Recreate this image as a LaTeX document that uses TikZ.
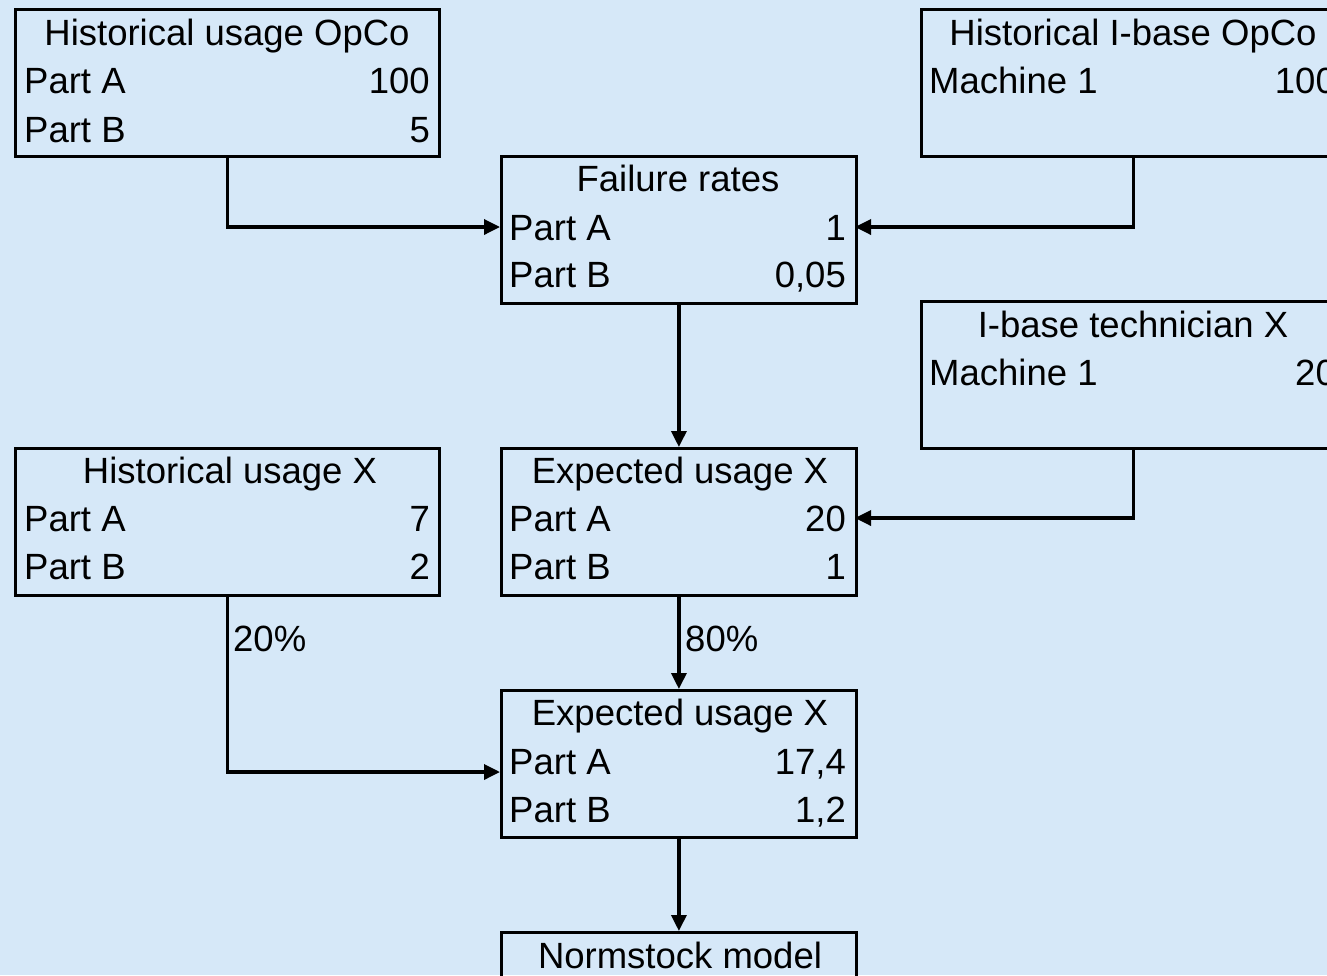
\documentclass[tikz,border=0pt]{standalone}
\usepackage{fontspec}
\setmainfont{Liberation Sans}
\usetikzlibrary{arrows.meta}
\definecolor{bg}{RGB}{214,232,248}
\begin{document}
\begin{tikzpicture}[x=1pt,y=-1pt,
  box/.style={draw=black,line width=2.8pt,anchor=north west,inner sep=0pt,minimum height=147pt},
  wbox/.style={box,minimum width=424pt},
  mbox/.style={box,minimum width=355pt},
  txt/.style={inner sep=0pt,font=\fontsize{36.5}{44}\selectfont},
  lt/.style={txt,anchor=base west},
  rt/.style={txt,anchor=base east},
  ct/.style={txt,anchor=base},
  conn/.style={draw=black,line width=3.4pt,-{Triangle[length=16pt,width=15pt]}}]
\fill[bg] (0,0) rectangle (1327,975);
\useasboundingbox (0,0) rectangle (1327,975);
\clip (0,0) rectangle (1327,975);
% Historical usage OpCo
\node[wbox] (hu) at (14,8) {};
\node[ct] (hu-t) at (227,45) {Historical usage OpCo};
\node[lt] (hu-a) at (24,93) {Part A};
\node[rt] (hu-av) at (430,93) {100};
\node[lt] (hu-b) at (24,142) {Part B};
\node[rt] (hu-bv) at (430,142) {5};
% Historical I-base OpCo
\node[wbox] (hi) at (920,8) {};
\node[ct] (hi-t) at (1133,45) {Historical I-base OpCo};
\node[lt] (hi-a) at (929,93) {Machine 1};
\node[rt] (hi-av) at (1336,93) {100};
% Failure rates
\node[mbox] (fr) at (500,155) {};
\node[ct] (fr-t) at (678,191) {Failure rates};
\node[lt] (fr-a) at (509,240) {Part A};
\node[rt] (fr-av) at (846,240) {1};
\node[lt] (fr-b) at (509,287) {Part B};
\node[rt] (fr-bv) at (846,287) {0,05};
\coordinate (fr-inL) at (500,227);
\coordinate (fr-inR) at (855,227);
% I-base technician X
\node[wbox] (it) at (920,300) {};
\node[ct] (it-t) at (1133,337) {I-base technician X};
\node[lt] (it-a) at (929,385) {Machine 1};
\node[rt] (it-av) at (1336,385) {20};
% Historical usage X
\node[wbox] (hx) at (14,447) {};
\node[ct] (hx-t) at (230,483) {Historical usage X};
\node[lt] (hx-a) at (24,531) {Part A};
\node[rt] (hx-av) at (430,531) {7};
\node[lt] (hx-b) at (24,579) {Part B};
\node[rt] (hx-bv) at (430,579) {2};
% Expected usage X
\node[mbox] (ex) at (500,447) {};
\node[ct] (ex-t) at (680,483) {Expected usage X};
\node[lt] (ex-a) at (509,531) {Part A};
\node[rt] (ex-av) at (846,531) {20};
\node[lt] (ex-b) at (509,579) {Part B};
\node[rt] (ex-bv) at (846,579) {1};
\coordinate (ex-inR) at (855,518);
% Expected usage X (final)
\node[mbox] (ef) at (500,689) {};
\node[ct] (ef-t) at (680,725) {Expected usage X};
\node[lt] (ef-a) at (509,774) {Part A};
\node[rt] (ef-av) at (846,774) {17,4};
\node[lt] (ef-b) at (509,822) {Part B};
\node[rt] (ef-bv) at (846,822) {1,2};
\coordinate (ef-inL) at (500,772);
% Normstock model
\node[mbox] (nm) at (500,931) {};
\node[ct] (nm-t) at (680,968) {Normstock model};
% connectors
\draw[conn] (hu.south) |- (fr-inL);
\draw[conn] (hi.south) |- (fr-inR);
\draw[conn] (fr.south) -- (ex.north);
\draw[conn] (it.south) |- (ex-inR);
\draw[conn] (hx.south) |- (ef-inL);
\draw[conn] (ex.south) -- (ef.north);
\draw[conn] (ef.south) -- (nm.north);
\node[lt] (p20) at (233,651) {20\%};
\node[lt] (p80) at (685,651) {80\%};
\end{tikzpicture}
\end{document}
